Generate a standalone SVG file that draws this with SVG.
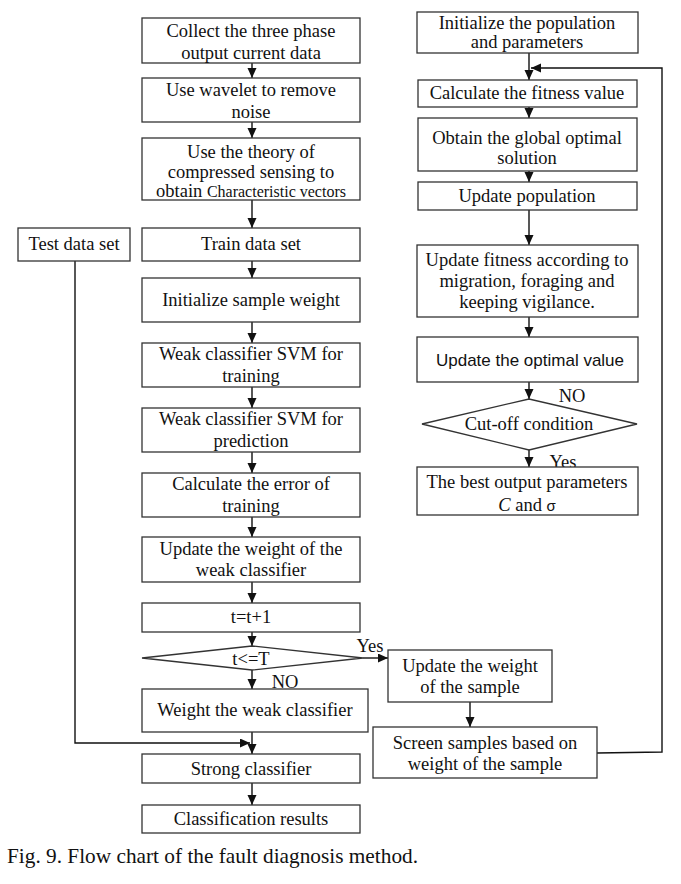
<svg xmlns="http://www.w3.org/2000/svg" width="681" height="884" viewBox="0 0 681 884">
<defs>
<marker id="ah" markerUnits="userSpaceOnUse" markerWidth="11" markerHeight="10" refX="10" refY="4.5" orient="auto"><path d="M0,0 L10,4.5 L0,9 z" fill="#111"/></marker>
<style>
.b{fill:#fff;stroke:#333;stroke-width:1.3}
.t{font-family:"Liberation Serif","Times New Roman",serif;font-size:18.5px;fill:#111;text-anchor:middle}
.s{font-family:"Liberation Sans",Arial,sans-serif;font-size:17px;fill:#111;text-anchor:middle}
.c{fill:none;stroke:#111;stroke-width:1.4}
.a{marker-end:url(#ah)}
</style>
</defs>
<rect width="681" height="884" fill="#fff"/>
<g id="connectors">
<line class="c a" x1="252" y1="63" x2="252" y2="78"/>
<line class="c a" x1="252" y1="122" x2="252" y2="138"/>
<line class="c a" x1="252" y1="200" x2="252" y2="228"/>
<line class="c a" x1="252" y1="261" x2="252" y2="278"/>
<line class="c a" x1="252" y1="322" x2="252" y2="343"/>
<line class="c a" x1="252" y1="387" x2="252" y2="408"/>
<line class="c a" x1="252" y1="452" x2="252" y2="473"/>
<line class="c a" x1="252" y1="517" x2="252" y2="537"/>
<line class="c a" x1="252" y1="582" x2="252" y2="603"/>
<line class="c a" x1="252" y1="632" x2="252" y2="646"/>
<line class="c a" x1="252" y1="670" x2="252" y2="689"/>
<line class="c a" x1="252" y1="732" x2="252" y2="754"/>
<line class="c a" x1="252" y1="783" x2="252" y2="805"/>
<polyline class="c a" points="75,261 75,743 250,743"/>
<line class="c a" x1="363" y1="658" x2="388" y2="658"/>
<line class="c a" x1="470" y1="702" x2="470" y2="727"/>
<polyline class="c a" points="597,753 662,752 662,68 531,68"/>
<line class="c a" x1="529" y1="53" x2="529" y2="80"/>
<line class="c a" x1="529" y1="107" x2="529" y2="118"/>
<line class="c a" x1="529" y1="171" x2="529" y2="182"/>
<line class="c a" x1="529" y1="210" x2="529" y2="245"/>
<line class="c a" x1="529" y1="317" x2="529" y2="337"/>
<line class="c a" x1="529" y1="382" x2="529" y2="399"/>
<line class="c a" x1="529" y1="450" x2="529" y2="467"/>
</g>
<g id="n1"><rect class="b" x="142" y="18" width="218" height="45"/><text class="t" x="251" y="37">Collect the three phase</text><text class="t" x="251" y="59">output current data</text></g>
<g id="n2"><rect class="b" x="142" y="78" width="218" height="44"/><text class="t" x="251" y="96">Use wavelet to remove</text><text class="t" x="251" y="118">noise</text></g>
<g id="n3"><rect class="b" x="142" y="138" width="218" height="62"/><text class="t" x="251" y="158">Use the theory of</text><text class="t" x="251" y="178">compressed sensing to</text><text class="t" x="251" y="197">obtain <tspan font-size="16">Characteristic vectors</tspan></text></g>
<g id="n4"><rect class="b" x="18" y="228" width="112" height="33"/><text class="t" x="74" y="250">Test data set</text></g>
<g id="n5"><rect class="b" x="142" y="228" width="218" height="33"/><text class="t" x="251" y="250">Train data set</text></g>
<g id="n6"><rect class="b" x="142" y="278" width="218" height="44"/><text class="t" x="251" y="306">Initialize sample weight</text></g>
<g id="n7"><rect class="b" x="142" y="343" width="218" height="44"/><text class="t" x="251" y="360">Weak classifier SVM for</text><text class="t" x="251" y="382">training</text></g>
<g id="n8"><rect class="b" x="142" y="408" width="218" height="44"/><text class="t" x="251" y="425">Weak classifier SVM for</text><text class="t" x="251" y="447">prediction</text></g>
<g id="n9"><rect class="b" x="142" y="473" width="218" height="44"/><text class="t" x="251" y="490">Calculate the error of</text><text class="t" x="251" y="512">training</text></g>
<g id="n10"><rect class="b" x="142" y="537" width="218" height="45"/><text class="t" x="251" y="555">Update the weight of the</text><text class="t" x="251" y="576">weak classifier</text></g>
<g id="n11"><rect class="b" x="142" y="603" width="218" height="29"/><text class="t" x="251" y="623">t=t+1</text></g>
<g id="n12"><polygon class="b" points="142,658 252,646 363,658 252,670"/><text class="t" x="251" y="665">t&lt;=T</text></g>
<text class="t" x="285" y="688">NO</text>
<text class="t" x="370" y="652">Yes</text>
<g id="n13"><rect class="b" x="142" y="689" width="226" height="43"/><text class="t" x="255" y="716">Weight the weak classifier</text></g>
<g id="n14"><rect class="b" x="142" y="754" width="218" height="29"/><text class="t" x="251" y="775">Strong classifier</text></g>
<g id="n15"><rect class="b" x="142" y="805" width="218" height="28"/><text class="t" x="251" y="825">Classification results</text></g>
<g id="r1"><rect class="b" x="417" y="12" width="221" height="41"/><text class="t" x="527" y="29">Initialize the population</text><text class="t" x="527" y="48">and parameters</text></g>
<g id="r2"><rect class="b" x="418" y="80" width="219" height="27"/><text class="t" x="527" y="99">Calculate the fitness value</text></g>
<g id="r3"><rect class="b" x="418" y="118" width="219" height="53"/><text class="t" x="527" y="144">Obtain the global optimal</text><text class="t" x="527" y="164">solution</text></g>
<g id="r4"><rect class="b" x="418" y="182" width="219" height="28"/><text class="t" x="527" y="202">Update population</text></g>
<g id="r5"><rect class="b" x="417" y="245" width="221" height="72"/><text class="t" x="527" y="266">Update fitness according to</text><text class="t" x="527" y="287">migration, foraging and</text><text class="t" x="527" y="308">keeping vigilance.</text></g>
<g id="r6"><rect class="b" x="417" y="337" width="221" height="45"/><text class="s" x="530" y="366">Update the optimal value</text></g>
<g id="r7"><polygon class="b" points="422,424 529,399 637,424 529,450"/><text class="t" x="529" y="430">Cut-off condition</text></g>
<text class="t" x="572" y="402">NO</text>
<text class="t" x="563" y="468">Yes</text>
<g id="r8"><rect class="b" x="417" y="467" width="221" height="48"/><text class="t" x="527" y="488">The best output parameters</text><text class="t" x="527" y="511"><tspan font-style="italic">C</tspan> and  <tspan font-family="Liberation Sans,Arial,sans-serif" font-size="15">σ</tspan></text></g>
<g id="r9"><rect class="b" x="388" y="650" width="164" height="52"/><text class="t" x="470" y="672">Update the weight</text><text class="t" x="470" y="693">of the sample</text></g>
<g id="r10"><rect class="b" x="373" y="727" width="224" height="51"/><text class="t" x="485" y="749">Screen samples based on</text><text class="t" x="485" y="770">weight of the sample</text></g>
<text x="7" y="863" font-family="Liberation Serif,Times New Roman,serif" font-size="22" fill="#111" textLength="411" lengthAdjust="spacingAndGlyphs">Fig. 9. Flow chart of the fault diagnosis method.</text>
</svg>
